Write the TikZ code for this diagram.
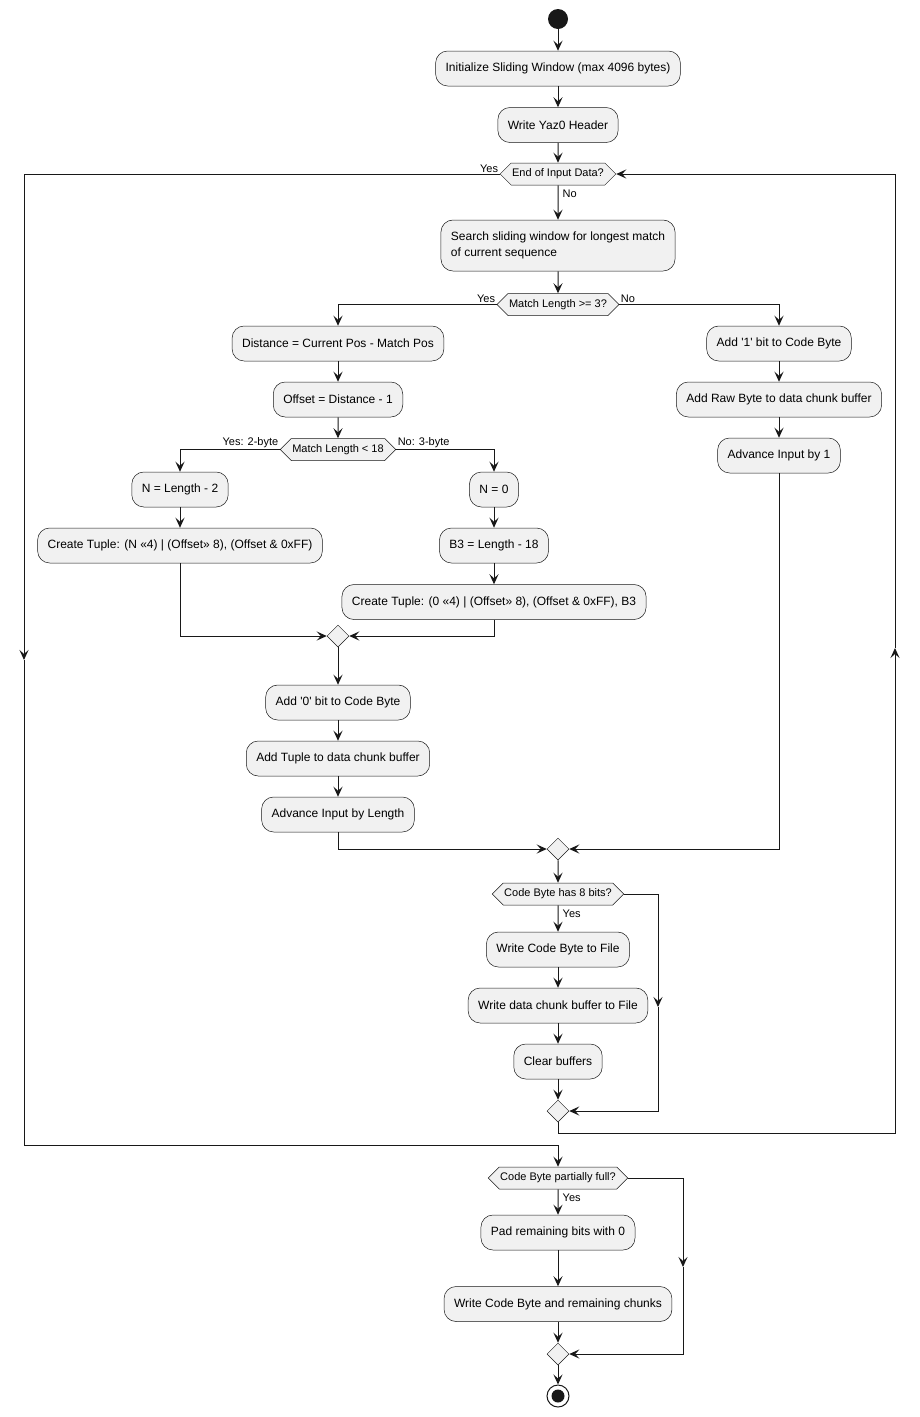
\documentclass[tikz,border=0pt]{standalone}
\usepackage{fontspec}
\setmainfont{Liberation Sans}[Ligatures=TeXOff]
\usetikzlibrary{arrows.meta,shapes.geometric,shapes.symbols}
\definecolor{boxfill}{HTML}{F1F1F1}
\definecolor{ink}{HTML}{181818}
\begin{document}
\begin{tikzpicture}[x=1pt,y=-1pt,
  act/.style={draw=ink, line width=0.5pt, fill=boxfill, rounded corners=12pt, minimum height=35pt, inner xsep=10pt, font=\fontsize{12}{16}\selectfont},
  dec/.style={signal, signal to=east and west, signal pointer angle=90, draw=ink, line width=0.5pt, fill=boxfill, minimum height=22pt, inner xsep=1pt, inner ysep=2pt, font=\fontsize{11}{13}\selectfont},
  merge/.style={diamond, draw=ink, line width=0.5pt, fill=boxfill, minimum width=22pt, minimum height=22pt, inner sep=0pt},
  flow/.style={draw=ink, line width=1pt, -{Stealth[length=10pt,width=9pt,inset=4pt]}},
  lbl/.style={font=\fontsize{11}{13}\selectfont, inner sep=1.5pt}
]
\fill[white] (0,0) rectangle (920,1417);
\useasboundingbox (0,0) rectangle (920,1417);

% nodes
\node[circle, fill=ink, minimum size=20pt, inner sep=0pt] (start) at (558,19) {};
\node[act] (init) at (558,68.5) {Initialize Sliding Window (max 4096 bytes)};
\node[act] (hdr) at (558,125) {Write Yaz0 Header};
\node[dec] (d1) at (558,174) {End of Input Data?};
\node[act, minimum height=51pt, align=left] (search) at (558,245.5) {Search sliding window for longest match\\of current sequence};
\node[dec] (d2) at (558,304.5) {Match Length >= 3?};
\node[act] (dist) at (338,343.5) {Distance = Current Pos - Match Pos};
\node[act] (off) at (338,399.5) {Offset = Distance - 1};
\node[dec] (d3) at (338,449.5) {Match Length < 18};
\node[act] (nlen) at (180,489.5) {N = Length - 2};
\node[act] (tupA) at (180,545.5) {Create Tuple: (N «4) | (Offset» 8), (Offset \& 0xFF)};
\node[act] (n0) at (494,489.5) {N = 0};
\node[act] (b3) at (494,545.5) {B3 = Length - 18};
\node[act] (tupB) at (494,602) {Create Tuple: (0 «4) | (Offset» 8), (Offset \& 0xFF), B3};
\node[merge] (m1) at (338,636) {};
\node[act] (add0) at (338,702.5) {Add '0' bit to Code Byte};
\node[act] (addT) at (338,758.5) {Add Tuple to data chunk buffer};
\node[act] (advL) at (338,814.5) {Advance Input by Length};
\node[act] (add1) at (779,343.5) {Add '1' bit to Code Byte};
\node[act] (raw) at (779,399.5) {Add Raw Byte to data chunk buffer};
\node[act] (adv1) at (779,455.5) {Advance Input by 1};
\node[merge] (m2) at (558,849) {};
\node[dec] (d4) at (558,894) {Code Byte has 8 bits?};
\node[act] (wcb) at (558,949.5) {Write Code Byte to File};
\node[act] (wdc) at (558,1005.5) {Write data chunk buffer to File};
\node[act] (clr) at (558,1061.5) {Clear buffers};
\node[merge] (m3) at (558,1111) {};
\node[dec] (d5) at (558,1178) {Code Byte partially full?};
\node[act] (pad) at (558,1232.5) {Pad remaining bits with 0};
\node[act] (wrem) at (558,1304) {Write Code Byte and remaining chunks};
\node[merge] (m4) at (558,1354) {};
\node[circle, draw=ink, line width=1pt, fill=white, minimum size=22pt, inner sep=0pt] (stop) at (558,1396) {};
\node[circle, fill=ink, minimum size=13pt, inner sep=0pt] (stopdot) at (stop) {};

% labels
\node[lbl, anchor=south east] (l1y) at (d1.west) {Yes};
\node[lbl, anchor=north west, xshift=3pt, yshift=-3pt] (l1n) at (d1.south) {No};
\node[lbl, anchor=south east] (l2y) at (d2.west) {Yes};
\node[lbl, anchor=south west] (l2n) at (d2.east) {No};
\node[lbl, anchor=south east] (l3y) at (d3.west) {Yes: 2-byte};
\node[lbl, anchor=south west] (l3n) at (d3.east) {No: 3-byte};
\node[lbl, anchor=north west, xshift=3pt, yshift=-3pt] (l4y) at (d4.south) {Yes};
\node[lbl, anchor=north west, xshift=3pt, yshift=-3pt] (l5y) at (d5.south) {Yes};

% coordinates for loops
\coordinate (la) at (24,174);
\coordinate (lb) at (24,660);
\coordinate (lc) at (24,1145);
\coordinate (ra) at (558,1133);
\coordinate (rb) at (895,1133);
\coordinate (rc) at (895,648);
\coordinate (rd) at (895,174);
\coordinate (ca) at (658,894);
\coordinate (cb) at (658,1007);
\coordinate (cc) at (658,1111);
\coordinate (pa) at (683,1178);
\coordinate (pb) at (683,1267);
\coordinate (pc) at (683,1354);

% connectors
\draw[flow] (start) -- (init);
\draw[flow] (init) -- (hdr);
\draw[flow] (hdr) -- (d1);
\draw[flow] (d1) -- (search);
\draw[flow] (search) -- (d2);
\draw[flow] (d2.west) -| (dist.north);
\draw[flow] (d2.east) -| (add1.north);
\draw[flow] (dist) -- (off);
\draw[flow] (off) -- (d3);
\draw[flow] (d3.west) -| (nlen.north);
\draw[flow] (d3.east) -| (n0.north);
\draw[flow] (nlen) -- (tupA);
\draw[flow] (n0) -- (b3);
\draw[flow] (b3) -- (tupB);
\draw[flow] (tupA.south) |- (m1.west);
\draw[flow] (tupB.south) |- (m1.east);
\draw[flow] (m1) -- (add0);
\draw[flow] (add0) -- (addT);
\draw[flow] (addT) -- (advL);
\draw[flow] (advL.south) |- (m2.west);
\draw[flow] (add1) -- (raw);
\draw[flow] (raw) -- (adv1);
\draw[flow] (adv1.south) |- (m2.east);
\draw[flow] (m2) -- (d4);
\draw[flow] (d4) -- (wcb);
\draw[flow] (wcb) -- (wdc);
\draw[flow] (wdc) -- (clr);
\draw[flow] (clr) -- (m3);
\draw[flow] (d4.east) -- (ca) -- (cb);
\draw[flow] (cb) -- (cc) -- (m3.east);
\draw[flow] (m3.south) -- (ra) -- (rb) -- (rc);
\draw[flow] (rc) -- (rd) -- (d1.east);
\draw[flow] (d1.west) -- (la) -- (lb);
\draw[flow] (lb) -- (lc) -| (d5.north);
\draw[flow] (d5) -- (pad);
\draw[flow] (pad) -- (wrem);
\draw[flow] (wrem) -- (m4);
\draw[flow] (d5.east) -- (pa) -- (pb);
\draw[flow] (pb) -- (pc) -- (m4.east);
\draw[flow] (m4) -- (stop);
\end{tikzpicture}
\end{document}
